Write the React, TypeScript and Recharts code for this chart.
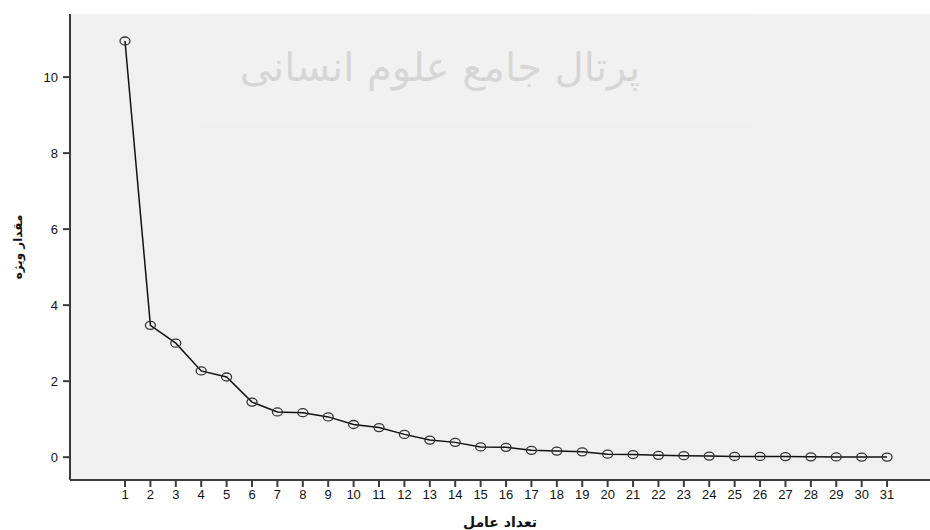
import { LineChart, Line, XAxis, YAxis, CartesianGrid } from 'recharts'

// scree plot: eigenvalue per factor
const factors = [1, 2, 3, 4, 5, 6, 7, 8, 9, 10, 11, 12, 13, 14, 15, 16, 17, 18, 19, 20, 21, 22, 23, 24, 25, 26, 27, 28, 29, 30, 31]
const eigenvalues = [
  10.95, 3.47, 3.0, 2.27, 2.11, 1.45, 1.19, 1.17, 1.06, 0.86, 0.78, 0.6, 0.45, 0.39, 0.27, 0.26,
  0.18, 0.16, 0.14, 0.08, 0.07, 0.05, 0.04, 0.03, 0.02, 0.02, 0.015, 0.01, 0.006, 0.004, 0.003,
]
const yTicks = [0, 2, 4, 6, 8, 10]

const xTitle = 'تعداد عامل'
const yTitle = 'مقدار ویژه'
const watermark = 'پرتال جامع علوم انسانی'

const data = factors.map((f, i) => ({ factor: f, value: eigenvalues[i] }))

const AXIS = '#3c3c3c'
const FONT = '"Liberation Sans", Arial, sans-serif'

function RingDot({ cx, cy }: { cx?: number; cy?: number }) {
  if (cx == null || cy == null) return null
  return <ellipse cx={cx} cy={cy} rx={5} ry={4} fill="none" stroke="#333" strokeWidth={1.3} />
}

export default function App() {
  return (
    <div style={{ position: 'absolute', left: 0, top: 0, width: 930, height: 530, overflow: 'hidden', background: '#fff' }}>
      <LineChart width={930} height={530} data={data} margin={{ top: 14, right: 0, bottom: 0, left: 0 }}>
        <CartesianGrid fill="#f0f0f0" horizontal={false} vertical={false} />
        <XAxis
          dataKey="factor"
          type="number"
          domain={[-1.165, 32.69]}
          ticks={factors}
          allowDataOverflow
          height={50}
          axisLine={{ stroke: AXIS, strokeWidth: 2 }}
          tickSize={7}
          tickMargin={3}
          tick={{ fill: '#111', fontSize: 13, fontFamily: FONT }}
          tickLine={{ stroke: AXIS, strokeWidth: 2 }}
          label={({ viewBox }: any) => (
            <text
              x={viewBox.x + viewBox.width / 2}
              y={522}
              textAnchor="middle"
              dominantBaseline="central"
              fontFamily='"DejaVu Sans", sans-serif'
              fontWeight="bold"
              fontSize={14}
              fill="#111"
            >
              {xTitle}
            </text>
          )}
        />
        <XAxis
          xAxisId="top"
          orientation="top"
          type="number"
          domain={[-1.165, 32.69]}
          height={0}
          tick={false}
          tickLine={false}
          axisLine={{ stroke: AXIS, strokeWidth: 2 }}
        />
        <YAxis
          type="number"
          domain={[-0.6, 11.66]}
          ticks={yTicks}
          allowDataOverflow
          width={70}
          axisLine={{ stroke: AXIS, strokeWidth: 2 }}
          tickSize={7}
          tickMargin={5}
          tick={{ fill: '#111', fontSize: 13, fontFamily: FONT }}
          tickLine={{ stroke: AXIS, strokeWidth: 2 }}
          label={({ viewBox }: any) => {
            const x = 18
            const y = viewBox.y + viewBox.height / 2
            return (
              <text
                x={x}
                y={y}
                transform={`rotate(-90, ${x}, ${y})`}
                textAnchor="middle"
                dominantBaseline="central"
                fontFamily='"DejaVu Sans", sans-serif'
                fontWeight="bold"
                fontSize={12}
                fill="#111"
              >
                {yTitle}
              </text>
            )
          }}
        />
        <Line
          dataKey="value"
          type="linear"
          stroke="#111"
          strokeWidth={1.5}
          dot={<RingDot />}
          activeDot={false}
          isAnimationActive={false}
        />
      </LineChart>
      <div
        style={{
          position: 'absolute',
          left: 198,
          top: 15,
          width: 560,
          height: 110,
          background: 'rgba(255,255,255,0.12)',
          pointerEvents: 'none',
        }}
      />
      <div
        style={{
          position: 'absolute',
          left: 290,
          top: 22,
          width: 300,
          height: 90,
          display: 'flex',
          alignItems: 'center',
          justifyContent: 'center',
          direction: 'rtl',
          fontFamily: '"DejaVu Sans", sans-serif',
          fontSize: 40,
          color: 'rgba(170,170,170,0.4)',
          whiteSpace: 'nowrap',
          pointerEvents: 'none',
        }}
      >
        {watermark}
      </div>
    </div>
  )
}
